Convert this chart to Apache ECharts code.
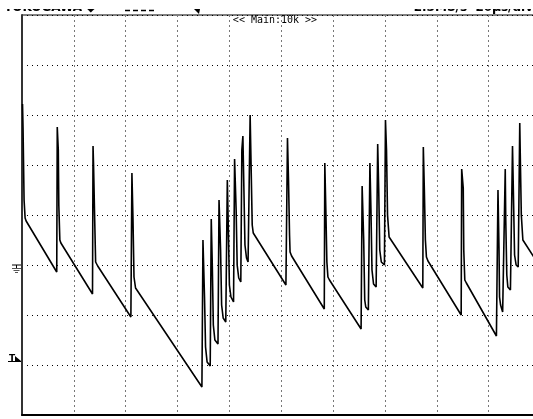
<!DOCTYPE html>
<html><head><meta charset="utf-8">
<script src="https://cdn.jsdelivr.net/npm/echarts@6/dist/echarts.min.js"></script>
<style>html,body{margin:0;padding:0;background:#fff;}#c{width:533px;height:419px;}</style>
</head><body><div id="c"></div>
<script>
// time axis in divisions (0..10), voltage in divisions relative to ground marker
const traceX = [0.01,0.02,0.04,0.06,0.08,
 0.67,0.68,0.70,0.71,0.73,0.75,
 1.36,1.37,1.38,1.40,1.42,1.46,
 2.10,2.12,2.14,2.16,2.19,
 3.47,3.49,3.52,3.54,3.57,3.63,
 3.65,3.67,3.69,3.72,3.78,
 3.80,3.83,3.85,3.88,3.93,
 3.96,3.98,4.00,4.03,4.08,
 4.10,4.13,4.15,4.18,4.22,
 4.24,4.26,4.28,4.30,4.33,4.36,
 4.40,4.42,4.44,4.46,
 5.09,5.12,5.14,5.16,5.17,5.20,
 5.83,5.84,5.86,5.88,5.90,5.93,
 6.54,6.56,6.59,6.61,6.63,6.68,
 6.71,6.73,6.75,6.78,6.83,
 6.86,6.88,6.90,6.93,6.99,
 7.01,7.03,7.05,7.08,
 7.73,7.74,7.76,7.78,7.80,7.83,
 8.47,8.48,8.51,8.52,8.54,8.57,
 9.15,9.18,9.20,9.21,9.23,9.27,
 9.32,9.33,9.35,9.37,9.42,
 9.46,9.48,9.50,9.53,9.57,
 9.60,9.61,9.63,9.66,
 9.86,9.99];
const traceY = [3.22,2.74,1.30,0.94,0.88,
 -0.14,2.76,2.30,1.20,0.50,0.44,
 -0.58,2.38,2.00,1.00,0.06,-0.02,
 -1.04,1.84,0.94,-0.24,-0.46,
 -2.44,0.50,-0.64,-1.64,-1.94,-2.02,
 0.92,0.00,-1.20,-1.50,-1.58,
 1.30,0.30,-0.80,-1.06,-1.14,
 1.70,0.70,-0.40,-0.64,-0.74,
 2.12,1.10,0.00,-0.26,-0.34,
 2.30,2.58,1.50,0.40,0.14,0.06,
 3.00,1.90,0.80,0.64,
 -0.40,2.54,1.70,0.60,0.26,0.18,
 -0.88,2.04,1.10,0.06,-0.24,-0.30,
 -1.28,1.58,0.50,-0.70,-0.84,-0.90,
 2.04,1.10,-0.10,-0.38,-0.44,
 2.42,1.50,0.30,0.06,0.00,
 2.90,2.30,1.00,0.56,
 -0.46,2.36,1.50,0.50,0.16,0.08,
 -1.00,1.92,1.54,0.30,-0.30,-0.36,
 -1.42,1.50,0.30,-0.64,-0.80,-0.94,
 1.92,0.90,-0.20,-0.44,-0.50,
 2.38,1.30,0.20,0.00,-0.04,
 2.84,2.20,1.00,0.50,
 0.18,-0.06];
const xRange = [0, 10];
const yRange = [-3, 5];
const headerLeft = 'YOKOGAWA ◆';
const headerRight = '2.5MS/s  20μs/div';
const zoomLabel = '<< Main:10k >>';

const data = traceX.map((x, i) => [x, traceY[i]]);
const chart = echarts.init(document.getElementById('c'), null, {renderer: 'canvas'});
chart.setOption({
  animation: false,
  backgroundColor: '#fff',
  grid: {left: 22, top: 15, width: 518.5, height: 400, show: true, borderColor: '#000', borderWidth: 1,
    containLabel: false, outerBoundsMode: 'none'},
  xAxis: {type: 'value', min: xRange[0], max: xRange[1], interval: 1,
    axisLine: {show: true, onZero: false, lineStyle: {color: '#000', width: 2}},
    axisTick: {show: false}, axisLabel: {show: false},
    splitLine: {show: true, lineStyle: {color: '#777', type: [2, 3], width: 1}}},
  yAxis: {type: 'value', min: yRange[0], max: yRange[1], interval: 1,
    axisLine: {show: true, onZero: false, lineStyle: {color: '#333', width: 2}},
    axisTick: {show: false}, axisLabel: {show: false},
    splitLine: {show: true, lineStyle: {color: '#000', type: [1, 4], width: 1}}},
  series: [{type: 'line', data: data, showSymbol: false, symbol: 'none',
    lineStyle: {color: '#000', width: 1.6}, clip: true}],
  graphic: [
    {type: 'text', left: 4, top: 2, z: 50, style: {text: headerLeft, font: 'bold 12px "DejaVu Sans"', fill: '#000'}},
    {type: 'line', z: 50, shape: {x1: 125, y1: 10.5, x2: 157, y2: 10.5}, style: {stroke: '#000', lineWidth: 1.5, lineDash: [5, 3]}},
    {type: 'text', right: 0, top: 2, z: 50, style: {text: headerRight, font: 'bold 12px "DejaVu Sans"', fill: '#000'}},
    {type: 'rect', z: 60, shape: {x: 0, y: 0, width: 533, height: 9}, style: {fill: '#fff'}},
    {type: 'polygon', z: 70, shape: {points: [[194, 9], [200, 9], [199, 14]]}, style: {fill: '#000'}},
    {type: 'text', z: 50, x: 275, y: 20, style: {text: zoomLabel, font: '10px "DejaVu Sans Mono"', fill: '#000', align: 'center', verticalAlign: 'middle'}},
    {type: 'line', z: 50, shape: {x1: 12, y1: 265, x2: 21, y2: 265}, style: {stroke: '#000', lineWidth: 1}},
    {type: 'line', z: 50, shape: {x1: 16.5, y1: 265, x2: 16.5, y2: 268}, style: {stroke: '#000', lineWidth: 1}},
    {type: 'line', z: 50, shape: {x1: 12, y1: 268.5, x2: 21, y2: 268.5}, style: {stroke: '#555', lineWidth: 1}},
    {type: 'line', z: 50, shape: {x1: 13.5, y1: 270.5, x2: 19.5, y2: 270.5}, style: {stroke: '#555', lineWidth: 1}},
    {type: 'line', z: 50, shape: {x1: 15, y1: 272.5, x2: 18, y2: 272.5}, style: {stroke: '#555', lineWidth: 1}},
    {type: 'text', z: 50, x: 9, y: 354, style: {text: 'T', font: 'bold 9px "DejaVu Sans"', fill: '#000'}},
    {type: 'line', z: 50, shape: {x1: 8, y1: 361.5, x2: 21, y2: 361.5}, style: {stroke: '#000', lineWidth: 1}},
    {type: 'polygon', z: 50, shape: {points: [[15, 356], [21, 361], [15, 362]]}, style: {fill: '#000'}}
  ]
});
</script></body></html>
